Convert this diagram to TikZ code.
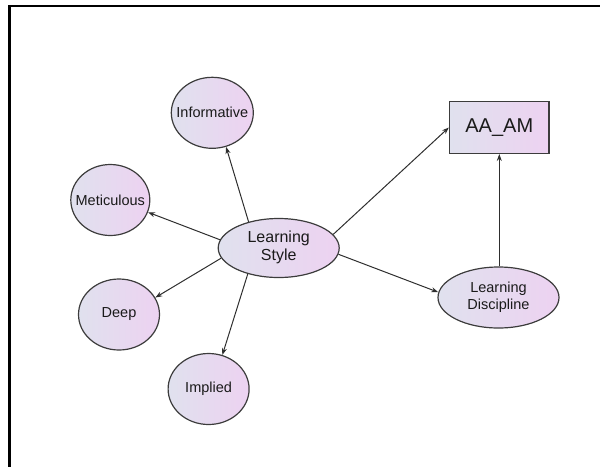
\documentclass[tikz,border=0pt]{standalone}
\usepackage{fontspec}
\setmainfont{Liberation Sans}
\usetikzlibrary{shapes.geometric,arrows.meta}
\definecolor{shL}{HTML}{E0E1EE}
\definecolor{shR}{HTML}{EDD2F1}
\definecolor{rim}{HTML}{3C3C3C}
\definecolor{wire}{HTML}{2E2E2E}
\definecolor{ink}{HTML}{1A1A1A}
% zero-width wrapper so the label does not enlarge the ellipse
\newcommand{\zw}[1]{\makebox[0pt]{#1}}
\tikzset{
  bubble/.style={ellipse, draw=rim, line width=1.2pt, left color=shL, right color=shR,
    inner sep=0pt, text=ink, font=\fontsize{14.5}{16.8}\selectfont},
  boxnode/.style={rectangle, draw=rim, line width=1.4pt, left color=shL, right color=shR,
    inner sep=0pt, text=ink, font=\fontsize{20}{24}\selectfont},
  link/.style={draw=wire, line width=1pt, -{Stealth[length=7pt,width=5pt]}},
}
\begin{document}
\begin{tikzpicture}[x=1pt,y=-1pt]
\useasboundingbox (0,0) rectangle (600,467);
% frame edges
\draw[line width=2pt] (8,6.3) -- (600,6.3);
\draw[line width=3pt] (9.5,5.3) -- (9.5,467);

% nodes
\node[bubble, minimum width=82pt, minimum height=71pt] (inf) at (212.3,112.8) {\zw{Informative}};
\node[bubble, minimum width=79pt, minimum height=71pt] (met) at (110.3,200) {\zw{Meticulous}};
\node[bubble, minimum width=81pt, minimum height=71pt] (deep) at (119,314.5) {\zw{Deep}};
\node[bubble, minimum width=81pt, minimum height=71pt] (imp) at (208.6,389) {\zw{Implied}};
\node[bubble, minimum width=121pt, minimum height=59pt, font=\fontsize{16}{17.7}\selectfont]
  (ls) at (278.7,248) {\zw{\begin{tabular}{@{}c@{}}Learning\\Style\end{tabular}}};
\node[bubble, minimum width=121pt, minimum height=61pt]
  (ld) at (498.5,297.5) {\zw{\begin{tabular}{@{}c@{}}Learning\\Discipline\end{tabular}}};
\node[boxnode, minimum width=99.5pt, minimum height=51.5pt] (aa) at (499.3,127.5) {AA\_AM};

% connectors
\draw[link] (ls.139) -- (inf.292);
\draw[link] (ls.172) -- (met.-18.6);
\draw[link] (ls.190) -- (deep.25);
\draw[link] (ls.220) -- (imp.68);
\draw[link] (ls.14) -- (aa.west);
\draw[link] (ls.-6.6) -- (ld.175);
\draw[link] (ld.north -| aa.south) -- (aa.south);
\end{tikzpicture}
\end{document}
